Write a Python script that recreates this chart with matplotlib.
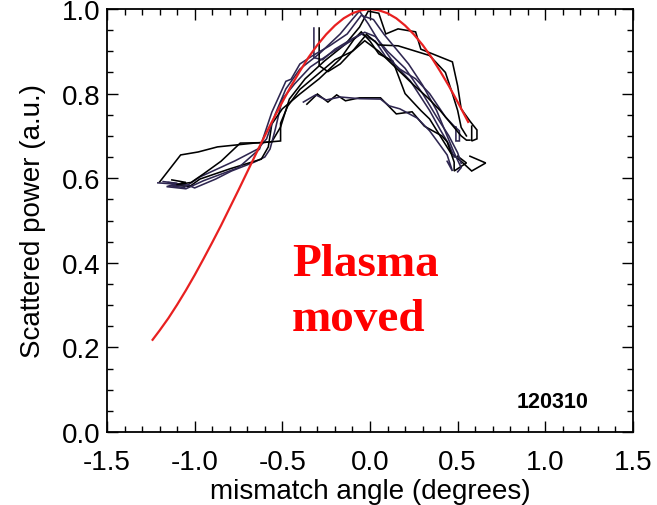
import matplotlib
matplotlib.use("Agg")
import matplotlib.pyplot as plt
from matplotlib.ticker import MultipleLocator, FormatStrFormatter

plt.rcParams['font.family'] = ['Liberation Sans', 'DejaVu Sans']
plt.rcParams['axes.unicode_minus'] = False

# ---------------- data ----------------
# Gaussian-like fit curve (red)
red_x = [-1.24, -1.20, -1.15, -1.10, -1.05, -1.00, -0.95, -0.90, -0.85, -0.80, -0.75, -0.70,
         -0.65, -0.60, -0.55, -0.50, -0.45, -0.40, -0.35, -0.30, -0.25, -0.20, -0.15, -0.10,
         -0.05, 0.00, 0.05, 0.10, 0.15, 0.20, 0.25, 0.30, 0.35, 0.40, 0.45, 0.50, 0.56]
red_y = [0.218, 0.240, 0.269, 0.301, 0.335, 0.371, 0.409, 0.448, 0.488, 0.530, 0.572, 0.615,
         0.658, 0.700, 0.741, 0.780, 0.818, 0.853, 0.886, 0.915, 0.940, 0.961, 0.978, 0.990,
         0.997, 1.000, 0.997, 0.990, 0.978, 0.961, 0.940, 0.915, 0.886, 0.853, 0.818, 0.780, 0.733]

# measured scans (dark lines)
t1_x = [-1.20, -1.08, -0.98, -0.87, -0.66, -0.56, -0.51, -0.46, -0.37, -0.26, -0.14, -0.06,
        -0.01, 0.05, 0.09, 0.16, 0.26, 0.29, 0.47, 0.50, 0.52, 0.57, 0.61, 0.61, 0.58, 0.58]
t1_y = [0.591, 0.655, 0.662, 0.674, 0.683, 0.686, 0.721, 0.787, 0.835, 0.877, 0.917, 0.957,
        0.995, 0.990, 0.941, 0.953, 0.946, 0.905, 0.875, 0.818, 0.764, 0.735, 0.714, 0.693, 0.688, 0.723]

t2_x = [-1.21, -1.04, -1.00, -0.88, -0.79, -0.66, -0.60, -0.57, -0.54, -0.50, -0.43, -0.34, -0.23,
        -0.11, -0.05, 0.03, 0.09, 0.17, 0.26, 0.34, 0.43, 0.48, 0.51, 0.51, 0.49, 0.49]
t2_y = [0.589, 0.584, 0.577, 0.598, 0.617, 0.638, 0.650, 0.669, 0.716, 0.787, 0.823, 0.863, 0.894,
        0.924, 0.941, 0.924, 0.887, 0.858, 0.835, 0.800, 0.745, 0.723, 0.712, 0.688, 0.688, 0.721]

t3_x = [-1.13, -1.05, -1.12, -1.03, -0.97, -0.80, -0.62, -0.58, -0.56, -0.50, -0.40, -0.29, -0.17,
        -0.09, -0.05, 0.00, 0.05, 0.13, 0.20, 0.29, 0.34, 0.40, 0.46, 0.52, 0.58, 0.66, 0.57]
t3_y = [0.596, 0.590, 0.584, 0.580, 0.598, 0.622, 0.645, 0.674, 0.728, 0.764, 0.799, 0.835, 0.882,
        0.929, 0.946, 0.924, 0.894, 0.877, 0.800, 0.760, 0.740, 0.700, 0.660, 0.640, 0.617, 0.636, 0.652]

t4_x = [-1.15, -1.06, -1.14, -1.06, -0.97, -0.77, -0.64, -0.59, -0.54, -0.48, -0.40, -0.29, -0.17,
        -0.10, -0.06, -0.01, 0.06, 0.14, 0.23, 0.34, 0.40, 0.45, 0.48]
t4_y = [0.590, 0.585, 0.582, 0.578, 0.603, 0.641, 0.669, 0.693, 0.752, 0.811, 0.858, 0.894, 0.941,
        0.976, 0.995, 0.965, 0.917, 0.870, 0.830, 0.760, 0.715, 0.680, 0.650]

t5_x = [-0.36, -0.30, -0.24, -0.19, -0.14, -0.06, 0.06, 0.15, 0.24, 0.31, 0.41, 0.44, 0.48, 0.48, 0.55, 0.50]
t5_y = [0.775, 0.799, 0.780, 0.797, 0.783, 0.790, 0.790, 0.752, 0.757, 0.723, 0.700, 0.686, 0.638, 0.617, 0.636, 0.652]

t6_x = [-0.38, -0.31, -0.25, -0.17, -0.06, 0.06, 0.11, 0.17, 0.27, 0.34, 0.40, 0.44, 0.47, 0.44]
t6_y = [0.780, 0.797, 0.785, 0.792, 0.788, 0.787, 0.771, 0.764, 0.742, 0.712, 0.678, 0.655, 0.617, 0.640]

t7_x = [-0.32, -0.32, -0.27, -0.20, -0.10, -0.03, 0.03, 0.10, 0.20, 0.30, 0.38, 0.45, 0.50, 0.52]
t7_y = [0.955, 0.885, 0.880, 0.905, 0.930, 0.945, 0.935, 0.900, 0.860, 0.800, 0.745, 0.700, 0.660, 0.635]

t8_x = [-0.29, -0.29, -0.24, -0.17, -0.09, -0.02, 0.05, 0.16, 0.34, 0.43, 0.47, 0.50, 0.52, 0.55]
t8_y = [0.955, 0.866, 0.852, 0.870, 0.905, 0.940, 0.915, 0.913, 0.890, 0.850, 0.800, 0.760, 0.720, 0.700]

t9_x = [-1.18, -1.10, -1.16, -1.05, -0.95, -0.75, -0.63, -0.56, -0.48, -0.45, -0.40, -0.33, -0.23,
        -0.13, -0.05, 0.02, 0.08, 0.16, 0.22, 0.30, 0.38, 0.44, 0.48, 0.52, 0.50]
t9_y = [0.592, 0.588, 0.580, 0.575, 0.594, 0.625, 0.669, 0.756, 0.829, 0.834, 0.870, 0.889, 0.913,
        0.941, 0.985, 0.975, 0.940, 0.900, 0.870, 0.820, 0.760, 0.700, 0.660, 0.625, 0.615]

t10_x = [-1.10, -1.02, -0.95, -0.85, -0.74, -0.62, -0.51, -0.51, -0.47, -0.40, -0.30, -0.20, -0.10,
         -0.03, 0.05, 0.15, 0.25, 0.33, 0.40, 0.46, 0.52, 0.55, 0.57]
t10_y = [0.585, 0.590, 0.610, 0.640, 0.683, 0.684, 0.688, 0.730, 0.770, 0.810, 0.845, 0.880, 0.900,
         0.925, 0.900, 0.860, 0.820, 0.790, 0.760, 0.730, 0.700, 0.690, 0.690]

traces = [(t1_x, t1_y), (t2_x, t2_y), (t3_x, t3_y), (t4_x, t4_y), (t5_x, t5_y),
          (t6_x, t6_y), (t7_x, t7_y), (t8_x, t8_y), (t9_x, t9_y), (t10_x, t10_y)]
trace_colors = ['#000000', '#2e2650', '#000000', '#2e2650', '#000000',
                '#2e2650', '#2e2650', '#000000', '#2e2650', '#000000']

x_label = "mismatch angle (degrees)"
y_label = "Scattered power (a.u.)"
annot_lines = ["Plasma", "moved"]
shot_label = "120310"

# ---------------- plot ----------------
fig = plt.figure(figsize=(6.57, 5.06), dpi=100)
ax = fig.add_axes([107/657, 73/506, 526/657, 423/506])

for (xs, ys), c in zip(traces, trace_colors):
    ax.plot(xs, ys, color=c, lw=1.15, solid_joinstyle='miter')
ax.plot(red_x, red_y, color='#e82020', lw=1.6)

ax.set_xlim(-1.5, 1.5)
ax.set_ylim(0, 1.0)
ax.xaxis.set_major_locator(MultipleLocator(0.5))
ax.xaxis.set_minor_locator(MultipleLocator(0.1))
ax.yaxis.set_major_locator(MultipleLocator(0.2))
ax.yaxis.set_minor_locator(MultipleLocator(0.05))
ax.xaxis.set_major_formatter(FormatStrFormatter('%.1f'))
ax.yaxis.set_major_formatter(FormatStrFormatter('%.1f'))
ax.tick_params(which='both', direction='in', top=True, right=True, width=1.0, colors='black')
ax.tick_params(which='major', length=8, labelsize=20)
ax.tick_params(which='minor', length=4)
ax.tick_params(axis='x', which='major', pad=12.5)
ax.tick_params(axis='y', which='major', pad=5)
for s in ax.spines.values():
    s.set_linewidth(1.3)

fig.text(370/657, (506-499)/506, x_label, ha='center', va='baseline', fontsize=20)
fig.text(33/657, (506-221)/506, y_label, ha='center', va='center', rotation=90, fontsize=20)

ax.text((292-107)/526, (433-276)/423, annot_lines[0], transform=ax.transAxes, color='red',
        fontsize=34, fontweight='bold', family='Liberation Serif', ha='left', va='baseline')
ax.text((292-107)/526, (433-331)/423, annot_lines[1], transform=ax.transAxes, color='red',
        fontsize=34, fontweight='bold', family='Liberation Serif', ha='left', va='baseline')
ax.text((517-107)/526, (433-408)/423, shot_label, transform=ax.transAxes, color='black',
        fontsize=15.5, fontweight='bold', ha='left', va='baseline')

fig.savefig('out.png', dpi=100)
